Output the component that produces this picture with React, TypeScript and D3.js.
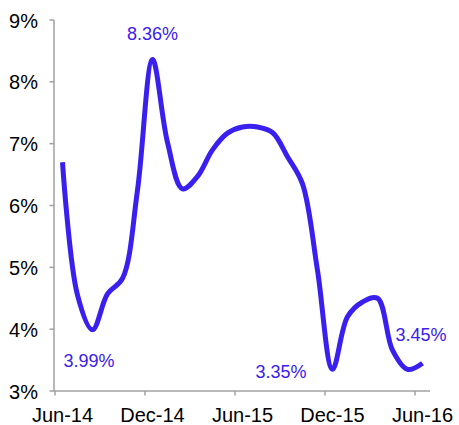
import React from "react";
import * as d3 from "d3";

const months = [
  "Jun-14","Jul-14","Aug-14","Sep-14","Oct-14","Nov-14","Dec-14",
  "Jan-15","Feb-15","Mar-15","Apr-15","May-15","Jun-15","Jul-15",
  "Aug-15","Sep-15","Oct-15","Nov-15","Dec-15","Jan-16","Feb-16",
  "Mar-16","Apr-16","May-16","Jun-16",
];
const values = [
  6.7, 4.55, 3.99, 4.57, 4.82, 6.25, 8.36,
  7.02, 6.27, 6.47, 6.9, 7.17, 7.27, 7.27,
  7.18, 6.79, 6.35, 4.95, 3.35, 4.2, 4.44,
  4.5, 3.66, 3.35, 3.45,
];
const yTicks = [3, 4, 5, 6, 7, 8, 9];
const xTickLabels = ["Jun-14", "Dec-14", "Jun-15", "Dec-15", "Jun-16"];
const annotations = [
  { month: "Dec-14", value: 8.36, text: "8.36%" },
  { month: "Aug-14", value: 3.99, text: "3.99%" },
  { month: "Dec-15", value: 3.35, text: "3.35%" },
  { month: "Jun-16", value: 3.45, text: "3.45%" },
];

const W = 459;
const H = 425;
const LINE = "#3a20ee";
const AXIS = "#a0a0a0";
const FONT = "Liberation Sans, Arial, sans-serif";

export default function App() {
  const x = d3.scaleBand<string>().domain(months).range([55, 430]).padding(0);
  const y = d3.scaleLinear().domain([3, 9]).range([391, 20]);
  const cx = (m: string) => (x(m) as number) + x.bandwidth() / 2;

  const line = d3
    .line<number>()
    .x((_, i) => cx(months[i]))
    .y((d) => y(d))
    .curve(d3.curveCatmullRom.alpha(0.5));

  const annPos: Record<string, { dx: number; dy: number; anchor: string }> = {
    "8.36%": { dx: 0, dy: -20, anchor: "middle" },
    "3.99%": { dx: -29, dy: 37, anchor: "start" },
    "3.35%": { dx: -77, dy: 9, anchor: "start" },
    "3.45%": { dx: -27, dy: -22, anchor: "start" },
  };

  return (
    <svg
      width={W}
      height={H}
      style={{ position: "absolute", left: 0, top: 0, background: "#fff" }}
      fontFamily={FONT}
    >
      {/* y axis */}
      <line x1={54} x2={54} y1={y(9)} y2={y(3)} stroke={AXIS} strokeWidth={1.5} />
      {yTicks.map((t) => (
        <g key={t}>
          <line x1={49.5} x2={54} y1={y(t)} y2={y(t)} stroke={AXIS} strokeWidth={1.5} />
          <text x={38} y={y(t) + 7.5} textAnchor="end" fontSize={20} fill="#000">
            {t}%
          </text>
        </g>
      ))}
      {/* x axis */}
      <line x1={54} x2={430} y1={y(3)} y2={y(3)} stroke={AXIS} strokeWidth={1.5} />
      {xTickLabels.map((m) => (
        <g key={m}>
          <line
            x1={x(m) as number}
            x2={x(m) as number}
            y1={y(3)}
            y2={y(3) + 4.5}
            stroke={AXIS}
            strokeWidth={1.5}
          />
          <text x={cx(m)} y={421.5} textAnchor="middle" fontSize={20} fill="#000">
            {m}
          </text>
        </g>
      ))}
      {/* series */}
      <path
        d={line(values) || ""}
        fill="none"
        stroke={LINE}
        strokeWidth={5}
        strokeLinejoin="round"
        strokeLinecap="butt"
      />
      {annotations.map((a) => {
        const p = annPos[a.text];
        return (
          <text
            key={a.text}
            x={cx(a.month) + p.dx}
            y={y(a.value) + p.dy}
            textAnchor={p.anchor as any}
            fontSize={18}
            fill={LINE}
          >
            {a.text}
          </text>
        );
      })}
    </svg>
  );
}
